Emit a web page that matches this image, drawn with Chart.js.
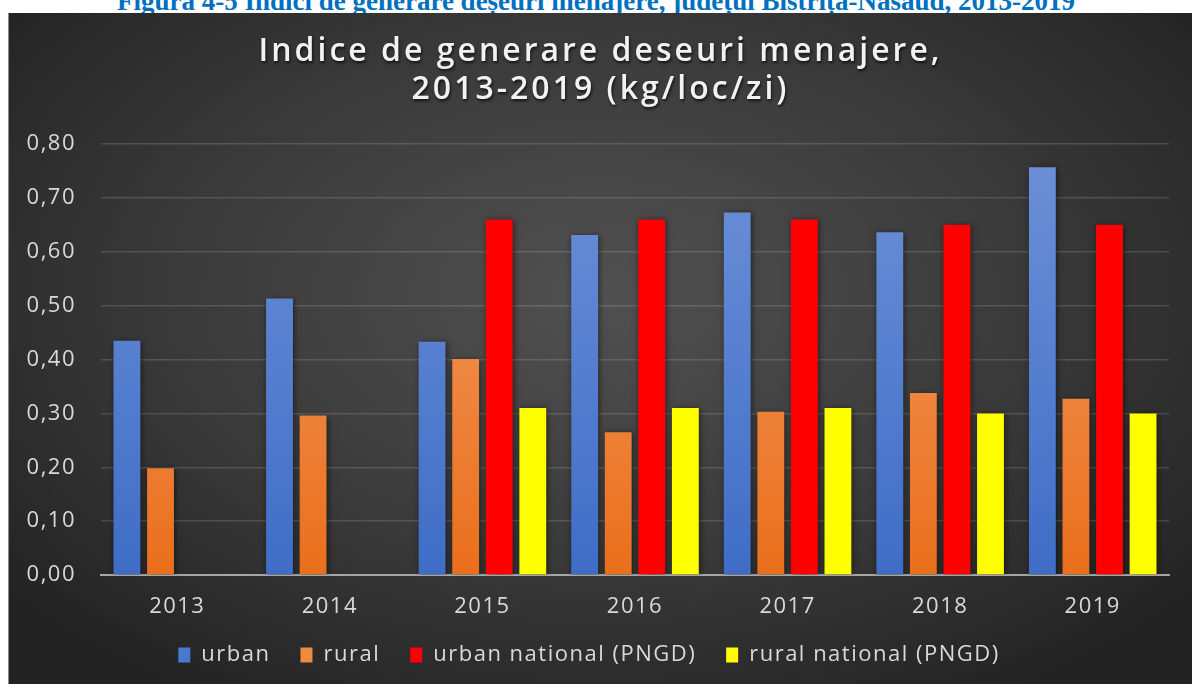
<!DOCTYPE html>
<html>
<head>
<meta charset="utf-8">
<script src="https://cdn.jsdelivr.net/npm/chart.js@4.4.1/dist/chart.umd.min.js"></script>
<style>
  html, body { margin: 0; padding: 0; background: #fff; overflow: hidden; }
  body { width: 1192px; height: 684px; position: relative; }
  #caption {
    position: absolute; left: 0; top: -12px; width: 1192px;
    text-align: center; font: bold 27px "Liberation Serif", serif;
    color: #0070c0; line-height: 27px; white-space: nowrap;
  }
  #box {
    position: absolute; left: 8px; top: 13px; width: 1184px; height: 671px;
    border-left: 1px solid #8a8a8a; box-sizing: border-box;
    background: radial-gradient(ellipse 65% 70% at 50% 42%, #515151 0%, #3a3a3a 55%, #232323 100%);
  }
</style>
</head>
<body>
<div id="caption">Figura 4-5 Indici de generare deșeuri menajere, județul Bistrița-Năsăud, 2013-2019</div>
<div id="box"><canvas id="chart"></canvas></div>
<script>
// --- date grafic ---
const years = ['2013', '2014', '2015', '2016', '2017', '2018', '2019'];
const urban = [0.435, 0.513, 0.433, 0.631, 0.673, 0.636, 0.757];
const rural = [0.198, 0.296, 0.401, 0.265, 0.303, 0.338, 0.327];
const urbanNational = [null, null, 0.66, 0.66, 0.66, 0.65, 0.65];
const ruralNational = [null, null, 0.31, 0.31, 0.31, 0.30, 0.30];
const titleLines = ['Indice de generare deseuri menajere,', '2013-2019 (kg/loc/zi)'];

const TEXT = '#d9d9d9';
const FONT = '"Open Sans", sans-serif';

// gradient vertical pe zona graficului
const grad = (top, bottom) => (ctx) => {
    const area = ctx.chart.chartArea;
    if (!area) return bottom;
    const g = ctx.chart.ctx.createLinearGradient(0, area.top, 0, area.bottom);
    g.addColorStop(0, top);
    g.addColorStop(1, bottom);
    return g;
};

// spatiere litere (stil Excel)
const spacingPlugin = {
    id: 'spacing',
    beforeUpdate(chart) { chart.ctx.letterSpacing = '1.5px'; },
    beforeDraw(chart) { chart.ctx.letterSpacing = '1.5px'; }
};

// umbra pentru bare
const shadowPlugin = {
    id: 'barShadow',
    beforeDatasetsDraw(chart) {
        const c = chart.ctx;
        c.save();
        c.shadowColor = 'rgba(0,0,0,0.55)';
        c.shadowBlur = 6;
        c.shadowOffsetX = 1;
        c.shadowOffsetY = 1;
    },
    afterDatasetsDraw(chart) { chart.ctx.restore(); }
};

// titlul pe doua randuri cu spatiere
const titlePlugin = {
    id: 'bigTitle',
    afterDraw(chart) {
        const c = chart.ctx;
        c.save();
        c.letterSpacing = '3px';
        c.font = '600 32px ' + FONT;
        c.fillStyle = '#f2f2f2';
        c.textAlign = 'center';
        c.textBaseline = 'alphabetic';
        c.shadowColor = 'rgba(0,0,0,0.7)';
        c.shadowBlur = 3;
        c.shadowOffsetX = 1;
        c.shadowOffsetY = 2;
        const cx = chart.width / 2;
        c.fillText(titleLines[0], cx, 48);
        c.fillText(titleLines[1], cx, 86);
        c.restore();
    }
};

new Chart(document.getElementById('chart'), {
    type: 'bar',
    data: {
        labels: years,
        datasets: [
            { label: 'urban', data: urban, backgroundColor: grad('#6d91d8', '#3f6dc6') },
            { label: 'rural', data: rural, backgroundColor: grad('#f4a06a', '#ea6f1c') },
            { label: 'urban national (PNGD)', data: urbanNational, backgroundColor: '#ff0000' },
            { label: 'rural national (PNGD)', data: ruralNational, backgroundColor: '#ffff00' }
        ]
    },
    options: {
        responsive: true,
        maintainAspectRatio: false,
        animation: false,
        categoryPercentage: 0.88,
        barPercentage: 0.8,
        layout: { padding: { top: 131, right: 23, left: 0, bottom: 8 } },
        plugins: {
            title: { display: false },
            tooltip: { enabled: false },
            legend: {
                position: 'bottom',
                labels: {
                    color: TEXT,
                    font: { family: FONT, size: 22 },
                    boxWidth: 12,
                    boxHeight: 15,
                    padding: 30,
                    generateLabels: (chart) => chart.data.datasets.map((ds, i) => ({
                        text: ds.label,
                        fillStyle: ['#4a78d0', '#f08a40', '#ff0000', '#ffff00'][i],
                        strokeStyle: 'transparent',
                        lineWidth: 0,
                        fontColor: TEXT,
                        datasetIndex: i
                    }))
                }
            }
        },
        scales: {
            x: {
                grid: { display: false },
                border: { color: '#a6a6a6', width: 2 },
                ticks: { color: TEXT, font: { family: FONT, size: 22 }, padding: 11 },
                afterFit: (s) => { s.height = 39; }
            },
            y: {
                min: 0,
                max: 0.8,
                grid: { color: 'rgba(255,255,255,0.14)', lineWidth: 1.5, drawTicks: false },
                border: { display: false },
                ticks: {
                    stepSize: 0.1,
                    color: TEXT,
                    font: { family: FONT, size: 22 },
                    padding: 25,
                    callback: (v) => v.toFixed(2).replace('.', ',')
                },
                afterFit: (s) => { s.width = 92; }
            }
        }
    },
    plugins: [spacingPlugin, shadowPlugin, titlePlugin]
});
</script>
</body>
</html>
